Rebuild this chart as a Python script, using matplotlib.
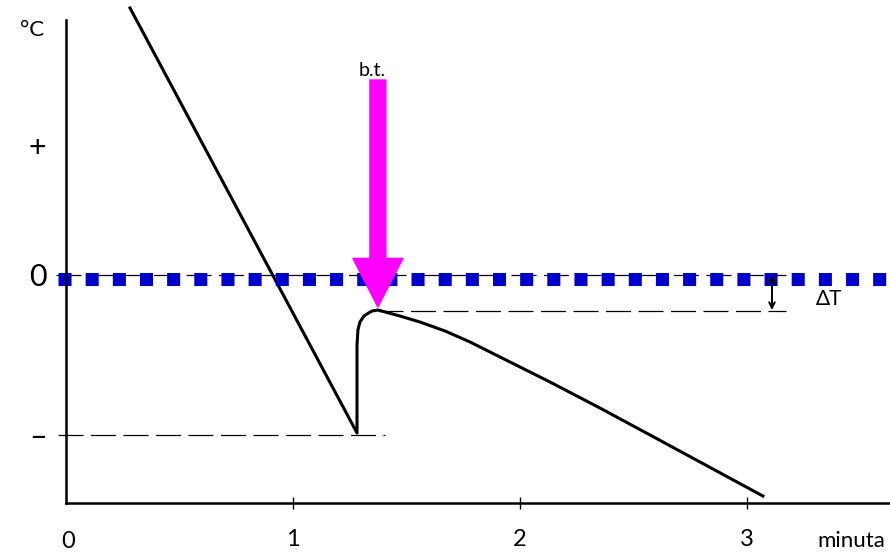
import matplotlib.pyplot as plt

# cooling curve (minutes, relative temperature)
t = [0.282, 1.282, 1.282, 1.282, 1.286, 1.295, 1.313, 1.326, 1.348, 1.374,
     1.471, 1.559, 1.670, 1.780, 1.912, 2.132, 2.352, 2.573, 2.793, 3.070]
temp = [2.69, -1.56, -1.23, -0.68, -0.53, -0.45, -0.39, -0.37, -0.34, -0.33,
        -0.39, -0.45, -0.54, -0.65, -0.80, -1.05, -1.31, -1.58, -1.85, -2.19]

x_ticks = [1, 2, 3]
y_ticks = [1.32, 0.02, -1.58]
y_labels = ['+', '0', '–']

t_min, temp_min = 1.282, -1.58    # supercooling minimum
t_peak, temp_peak = 1.374, -0.33  # b.t. (freezing point)

plt.rcParams['font.family'] = ['Lato', 'DejaVu Sans']

fig = plt.figure(figsize=(8.9, 5.54), dpi=100)
ax = fig.add_axes([66 / 890, 51 / 554, 824 / 890, 483 / 554])
ax.set_xlim(0, 824 / 227)
ax.set_ylim(-2.26, 2.57)

for s in ['top', 'right']:
    ax.spines[s].set_visible(False)
for s in ['left', 'bottom']:
    ax.spines[s].set_linewidth(1.8)

ax.set_xticks(x_ticks)
ax.set_xticklabels([str(v) for v in x_ticks])
ax.tick_params(axis='x', direction='inout', length=8, width=1, pad=15, labelsize=17)
ax.set_yticks(y_ticks)
ax.set_yticklabels(y_labels)
ax.tick_params(axis='y', length=0, pad=14, labelsize=22)

ax.text(-0.15, 2.47, '°C', fontsize=16, ha='center', va='center')
ax.text(0.01, -2.64, '0', fontsize=17, ha='center', va='center', clip_on=False)
ax.text(3.31, -2.64, 'minuta', fontsize=16, ha='left', va='center', clip_on=False)

# dashed guide lines
dash = (0, (20, 6))
ax.plot([-0.045, 3.17], [0.02, 0.02], color='black', lw=0.9, ls=dash, clip_on=False)
ax.plot([-0.035, 1.405], [temp_min, temp_min], color='black', lw=0.9, ls=dash, clip_on=False)
ax.plot([t_peak, 3.17], [temp_peak - 0.01, temp_peak - 0.01], color='black', lw=0.9, ls=dash)

ax.plot(t, temp, color='black', lw=2.2, solid_joinstyle='round', clip_on=False)

# blue dotted zero line
ax.plot([-0.035, 3.7], [-0.02, -0.02], color='#0000cc', lw=9.4,
        ls=(0, (1, 1.08)), dash_capstyle='butt', clip_on=False)

# delta T double arrow
ax.annotate('', xy=(3.11, temp_peak), xytext=(3.11, 0.02),
            arrowprops=dict(arrowstyle='<->', color='black', lw=1.4,
                            shrinkA=0, shrinkB=0))
ax.text(3.36, -0.22, 'ΔT', fontsize=15, ha='center', va='center')

# magenta arrow pointing at b.t.
ax.annotate('', xy=(t_peak, temp_peak + 0.03), xytext=(t_peak, 1.97),
            arrowprops=dict(arrowstyle='simple,head_length=35,head_width=36,tail_width=11.5',
                            color='#ff00ff', mutation_scale=1, shrinkA=0, shrinkB=0))
ax.text(1.348, 2.07, 'b.t.', fontsize=14, ha='center', va='center')

fig.savefig('out.png', dpi=100)
